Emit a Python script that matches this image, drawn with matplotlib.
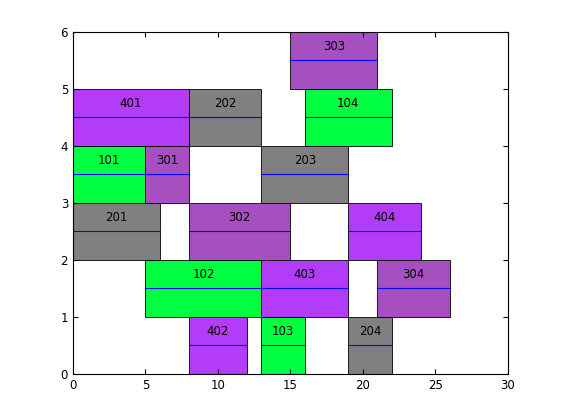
import matplotlib.pyplot as plt

# operation labels, machine row, start, end
labels = ['303', '401', '202', '104', '101', '301', '203',
          '201', '302', '404', '102', '403', '304', '402', '103', '204']
rows = [5, 4, 4, 4, 3, 3, 3, 2, 2, 2, 1, 1, 1, 0, 0, 0]
starts = [15, 0, 8, 16, 0, 5, 13, 0, 8, 19, 5, 13, 21, 8, 13, 19]
ends = [21, 8, 13, 22, 5, 8, 19, 6, 15, 24, 13, 19, 26, 12, 16, 22]

job_colors = {'1': '#00ff40', '2': '#808080', '3': '#a64fc0', '4': '#b23cf7'}

fig = plt.figure(figsize=(5.61, 4.2), dpi=100)
ax = fig.add_axes([0.13, 0.11, 0.775, 0.814])

for lab, r, s, e in zip(labels, rows, starts, ends):
    ax.bar(s, 1, width=e - s, bottom=r, align='edge',
           color=job_colors[lab[0]], edgecolor='black', linewidth=0.6)
    ax.plot([s, e], [r + 0.5, r + 0.5], color='blue', linewidth=0.8)
    ax.text((s + e) / 2, r + 0.75, lab, ha='center', va='center', fontsize=8.5)

ax.set_xlim(0, 30)
ax.set_ylim(0, 6)
ax.set_xticks(range(0, 31, 5))
ax.set_yticks(range(0, 7))
ax.tick_params(direction='in', top=True, right=True, labelsize=8.5)

plt.savefig('out.png', dpi=100)
